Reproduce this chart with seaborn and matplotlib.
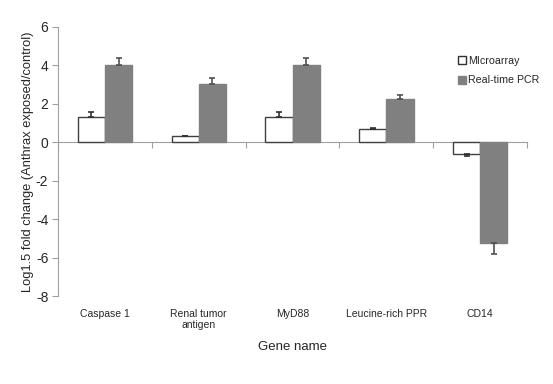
import numpy as np
import pandas as pd
import matplotlib
matplotlib.use("Agg")
import matplotlib.pyplot as plt
import seaborn as sns
from matplotlib.patches import Patch

genes = ["Caspase 1", "Renal tumor\nantigen", "MyD88", "Leucine-rich PPR", "CD14"]
microarray = [1.33, 0.30, 1.33, 0.68, -0.62]
microarray_err = [0.22, 0.05, 0.22, 0.07, 0.10]
pcr = [4.02, 3.03, 4.03, 2.25, -5.22]
pcr_err = [0.36, 0.33, 0.36, 0.22, 0.57]
series = ["MIcroarray", "Real-time PCR"]

df = pd.DataFrame({
    "gene": genes * 2,
    "value": microarray + pcr,
    "series": [series[0]] * len(genes) + [series[1]] * len(genes),
})

sns.set_style("white")
plt.rcParams["font.family"] = ["Liberation Sans", "DejaVu Sans"]
plt.rcParams["axes.unicode_minus"] = False

fig = plt.figure(figsize=(5.53, 3.84), dpi=100)
ax = fig.add_axes([0.105, 0.229, 0.848, 0.701])

sns.barplot(data=df, x="gene", y="value", hue="series", order=genes,
            hue_order=series, palette=["white", "#808080"], width=0.58,
            errorbar=None, legend=False, ax=ax)

edgecols = ["#404040", "#808080"]
errcols = ["#303030", "#505050"]
errs = [microarray_err, pcr_err]
for cont, ec, errc, err in zip(ax.containers, edgecols, errcols, errs):
    xs, ys, lo, hi = [], [], [], []
    for p, e in zip(cont.patches, err):
        p.set_edgecolor(ec)
        p.set_linewidth(1.0)
        h = p.get_height()
        xs.append(p.get_x() + p.get_width() / 2)
        ys.append(h)
        lo.append(e if h < 0 else 0)
        hi.append(e if h >= 0 else 0)
    ax.errorbar(xs, ys, yerr=[lo, hi], fmt="none", ecolor=errc,
                elinewidth=1.2, capsize=2.5, capthick=1.2)

ax.set_ylim(-8, 6)
ax.set_xlim(-0.5, len(genes) - 0.5)
ax.set_yticks(np.arange(-8, 7, 2))
ax.tick_params(axis="y", direction="out", length=4, color="#a0a0a0",
               labelsize=10, left=True, pad=3)
ax.tick_params(axis="x", length=0, labelsize=7.5, pad=9)
for s in ["top", "right", "bottom"]:
    ax.spines[s].set_visible(False)
ax.spines["left"].set_color("#a0a0a0")

# zero line with category boundary ticks
sec = ax.secondary_xaxis(0, transform=ax.transData)
sec.set_xticks(np.arange(-0.5, len(genes), 1.0))
sec.set_xticklabels([])
sec.tick_params(direction="out", length=4, color="#a0a0a0")
sec.spines["bottom"].set_color("#a0a0a0")

ax.set_xlabel("Gene name", fontsize=9.5, labelpad=8)
ax.set_ylabel("Log1.5 fold change (Anthrax exposed/control)", fontsize=9.3,
              labelpad=1)

handles = [Patch(facecolor="white", edgecolor="#303030", linewidth=1.0),
           Patch(facecolor="#808080", edgecolor="#808080")]
fig.legend(handles, series, loc="upper left", bbox_to_anchor=(0.81, 0.88),
           frameon=False, fontsize=7.7, handlelength=0.8, handleheight=0.8,
           handletextpad=0.2, labelspacing=0.9)

fig.savefig("out.png", dpi=100)
